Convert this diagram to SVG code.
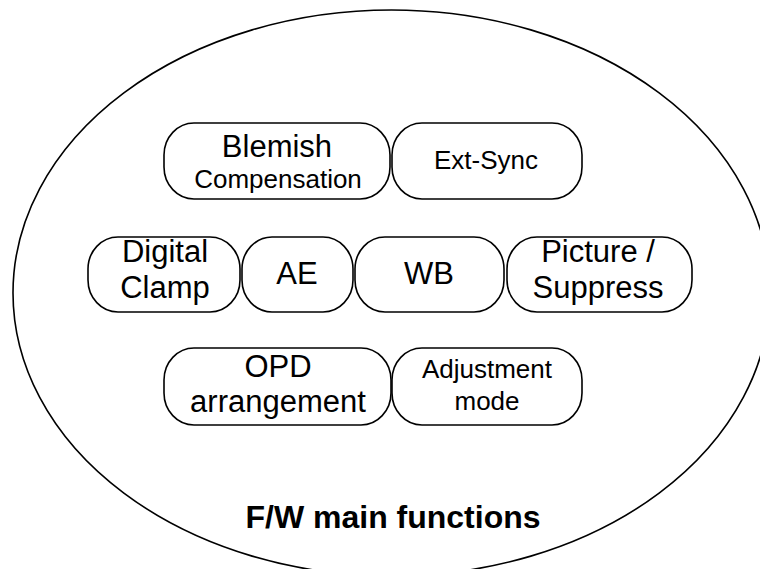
<svg xmlns="http://www.w3.org/2000/svg" width="760" height="569" viewBox="0 0 760 569">
<style>
.box{fill:#fff;stroke:#000;stroke-width:1.6}
.t{font-family:"Liberation Sans",Arial,sans-serif;fill:#000;text-anchor:middle}
.big{font-size:31px}
.sm{font-size:26px}
.ttl{font-size:32px;font-weight:bold}
</style>
<rect width="760" height="569" fill="#fff"/>
<ellipse cx="391.5" cy="293" rx="378.5" ry="283" fill="none" stroke="#000" stroke-width="1.6"/>
<g id="connectors"/>
<g id="blemish">
<rect class="box" x="164" y="123" width="226" height="76" rx="30" ry="32"/>
<text class="t big" x="277" y="157">Blemish</text>
<text class="t sm" x="278" y="188">Compensation</text>
</g>
<g id="extsync">
<rect class="box" x="392" y="123" width="190" height="76" rx="30" ry="32"/>
<text class="t sm" x="486" y="169">Ext-Sync</text>
</g>
<g id="digitalclamp">
<rect class="box" x="88" y="237" width="152" height="75" rx="30" ry="32"/>
<text class="t big" x="165" y="262">Digital</text>
<text class="t big" x="165" y="298">Clamp</text>
</g>
<g id="ae">
<rect class="box" x="242" y="237" width="111" height="75" rx="30" ry="32"/>
<text class="t big" x="297" y="284">AE</text>
</g>
<g id="wb">
<rect class="box" x="355" y="237" width="149" height="75" rx="30" ry="32"/>
<text class="t big" x="429" y="284">WB</text>
</g>
<g id="picture">
<rect class="box" x="507" y="237" width="185" height="75" rx="30" ry="32"/>
<text class="t big" x="598" y="262">Picture /</text>
<text class="t big" x="598" y="298">Suppress</text>
</g>
<g id="opd">
<rect class="box" x="164" y="348" width="227" height="77" rx="30" ry="32"/>
<text class="t big" x="278" y="377">OPD</text>
<text class="t big" x="278" y="412">arrangement</text>
</g>
<g id="adjust">
<rect class="box" x="392" y="348" width="190" height="77" rx="30" ry="32"/>
<text class="t sm" x="487" y="378">Adjustment</text>
<text class="t sm" x="487" y="410">mode</text>
</g>
<g id="title">
<text class="t ttl" x="393" y="528">F/W main functions</text>
</g>
</svg>
